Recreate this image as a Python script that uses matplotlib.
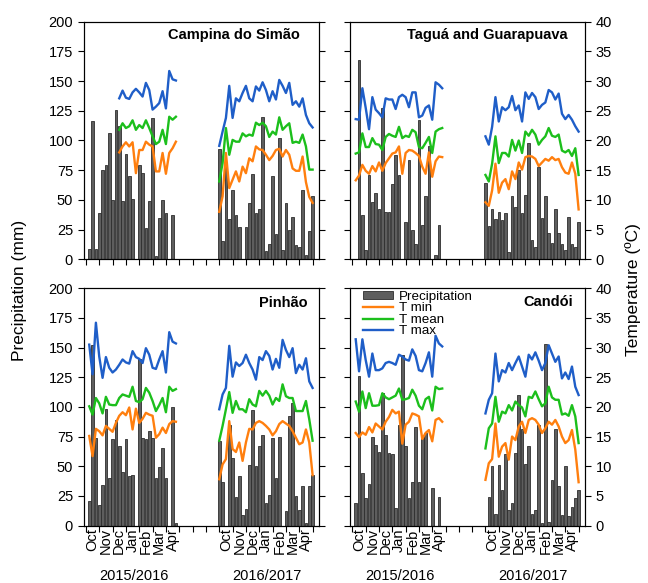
import numpy as np
import matplotlib.pyplot as plt
from matplotlib.patches import Patch
from matplotlib.lines import Line2D
from matplotlib.transforms import blended_transform_factory

plt.rcParams['font.family'] = ['Liberation Sans', 'DejaVu Sans']

months = ["Oct", "Nov", "Dec", "Jan", "Feb", "Mar", "Apr"]
seasons = ["2015/2016", "2016/2017"]
season_offset = [0, 10]   # x position (months) where each season starts
step = 0.25               # one data interval, in months

# ---- Campina do Simão ----
campina_rain_start = [0.25, 0.0]
campina_rain_1 = [9, 116, 9, 39, 75, 79, 106, 50, 126, 112, 49, 89, 70, 51, 0, 79, 73, 26, 49, 119,
                  3, 35, 50, 39, 0, 37]
campina_rain_2 = [93, 15, 81, 34, 58, 37, 27, 0, 27, 47, 72, 39, 42, 120, 7, 13, 70, 21, 102, 8,
                  47, 25, 36, 12, 10, 58, 4, 24, 53]
campina_temp_start = [2.5, 0.0]
campina_tmax_1 = [27.1, 28.4, 27.2, 27.0, 28.1, 28.7, 28.1, 27.4, 29.7, 28.5, 25.2, 25.7, 26.3, 28.3,
                  25.4, 31.7, 30.3, 30.1]
campina_tmean_1 = [21.8, 22.9, 22.1, 22.4, 23.4, 21.8, 22.6, 22.1, 23.4, 22.1, 20.7, 19.4, 19.8, 21.8,
                   19.4, 24.0, 23.5, 24.0]
campina_tmin_1 = [18.0, 19.0, 19.7, 19.0, 19.7, 14.5, 18.4, 18.4, 19.8, 19.3, 19.0, 14.8, 14.8, 17.9,
                  14.4, 17.9, 18.7, 19.8]
campina_tmax_2 = [19.1, 21.5, 23.8, 29.2, 23.8, 27.1, 26.6, 28.0, 29.2, 27.1, 26.6, 29.1, 28.4, 29.8,
                  28.5, 26.6, 28.3, 26.9, 30.2, 29.2, 28.0, 29.7, 26.0, 26.6, 25.7, 27.1, 24.3, 22.9, 22.2]
campina_tmean_2 = [13.1, 16.2, 22.1, 17.6, 20.1, 19.8, 19.8, 21.2, 20.7, 21.0, 20.8, 23.0, 22.6, 23.0,
                   22.4, 20.6, 21.5, 21.0, 23.9, 21.8, 22.4, 22.9, 19.6, 19.8, 19.6, 21.0, 19.0, 15.1, 15.1]
campina_tmin_2 = [8.0, 10.6, 17.9, 12.0, 13.4, 14.8, 13.1, 15.6, 14.5, 17.0, 16.5, 19.0, 18.5, 18.4,
                  17.6, 16.7, 17.4, 18.4, 18.6, 17.3, 18.4, 17.6, 15.3, 14.9, 14.9, 17.3, 13.0, 10.5, 9.5]

# ---- Taguá and Guarapuava ----
tagua_rain_start = [0.5, 0.0]
tagua_rain_1 = [168, 37, 8, 71, 48, 56, 42, 127, 40, 40, 63, 88, 71, 0, 31, 84, 25, 13, 117, 29,
                53, 95, 0, 4, 29]
tagua_rain_2 = [64, 28, 42, 34, 40, 33, 39, 6, 53, 44, 75, 39, 54, 98, 16, 10, 78, 35, 53, 22,
                14, 42, 22, 13, 8, 36, 13, 10, 31]
tagua_temp_start = [0.25, 0.0]
tagua_tmax_1 = [23.6, 23.5, 28.8, 25.5, 21.9, 27.3, 25.2, 24.6, 23.9, 27.1, 26.9, 26.9, 25.3, 27.3,
                27.7, 27.3, 25.6, 28.1, 28.1, 23.9, 24.2, 25.5, 25.9, 23.5, 29.8, 29.4, 28.8]
tagua_tmean_1 = [17.8, 18.0, 21.2, 18.9, 18.9, 20.4, 19.4, 19.3, 18.4, 20.6, 21.1, 20.8, 20.6, 22.3,
                 20.4, 20.8, 20.6, 21.8, 21.4, 18.9, 18.7, 19.6, 20.6, 17.9, 21.5, 21.9, 22.1]
tagua_tmin_1 = [13.3, 14.1, 15.9, 14.9, 14.4, 15.7, 14.8, 16.3, 14.9, 16.2, 17.0, 17.8, 18.0, 19.0,
                14.4, 17.9, 18.4, 18.3, 17.9, 17.4, 15.6, 14.4, 18.0, 13.9, 16.5, 17.3, 17.2]
tagua_tmax_2 = [20.7, 19.3, 22.3, 27.3, 23.2, 25.6, 25.1, 25.6, 27.5, 25.1, 25.9, 23.2, 28.1, 27.0,
                28.0, 27.3, 25.3, 26.0, 26.4, 28.5, 28.1, 26.9, 27.9, 24.5, 23.6, 24.3, 23.5, 22.4, 21.5]
tagua_tmean_2 = [14.2, 13.1, 16.1, 20.7, 16.2, 17.9, 17.9, 17.3, 20.1, 18.3, 20.0, 17.9, 21.5, 20.8,
                 21.8, 21.0, 19.3, 20.1, 20.7, 22.1, 20.8, 20.6, 21.0, 18.3, 18.0, 18.4, 17.4, 18.7, 14.2]
tagua_tmin_2 = [9.6, 9.0, 11.6, 16.1, 11.2, 12.9, 13.5, 11.8, 14.8, 13.5, 16.3, 15.1, 17.2, 17.4,
                17.3, 16.9, 15.7, 16.3, 16.9, 16.6, 17.2, 16.7, 16.9, 15.5, 14.6, 14.4, 16.3, 14.4, 8.4]

# ---- Pinhão ----
pinhao_rain_start = [0.25, 0.0]
pinhao_rain_1 = [21, 152, 74, 17, 34, 98, 40, 73, 89, 67, 45, 73, 42, 43, 0, 140, 74, 73, 80, 74,
                 40, 49, 65, 40, 0, 100, 2]
pinhao_rain_2 = [71, 37, 0, 85, 57, 24, 42, 9, 14, 51, 97, 50, 67, 76, 19, 26, 74, 40, 75, 0,
                 12, 92, 103, 25, 13, 33, 2, 33, 43]
pinhao_temp_start = [0.25, 0.0]
pinhao_tmax_1 = [30.5, 25.5, 34.2, 28.5, 24.9, 28.4, 26.6, 25.8, 26.3, 27.1, 28.0, 27.5, 27.3, 29.4,
                 28.4, 28.1, 27.4, 29.9, 28.8, 26.6, 26.4, 28.0, 29.4, 25.8, 32.6, 31.0, 30.7]
pinhao_tmean_1 = [20.1, 18.7, 21.5, 20.6, 18.9, 21.7, 20.4, 20.3, 20.3, 21.5, 22.1, 21.9, 21.7, 23.4,
                  21.0, 20.8, 21.3, 23.2, 22.4, 21.0, 19.3, 20.3, 21.5, 19.1, 23.4, 22.7, 23.0]
pinhao_tmin_1 = [15.1, 11.7, 16.3, 15.9, 15.2, 16.8, 16.3, 15.8, 17.3, 18.5, 19.1, 18.6, 19.9, 16.2,
                 19.7, 17.3, 18.0, 19.0, 18.7, 18.5, 14.8, 15.4, 16.5, 15.6, 17.1, 17.6, 17.5]
pinhao_tmax_2 = [19.6, 22.1, 23.2, 30.3, 25.1, 27.5, 26.9, 27.4, 28.8, 27.4, 26.3, 24.6, 28.4, 27.9,
                 29.4, 28.6, 26.3, 28.1, 26.6, 31.3, 29.6, 28.4, 29.9, 25.7, 27.1, 26.3, 28.2, 24.3, 23.2]
pinhao_tmean_2 = [14.3, 16.8, 19.6, 22.5, 19.0, 21.0, 19.6, 19.6, 19.1, 21.3, 20.4, 20.1, 22.7, 21.9,
                  22.7, 21.9, 20.4, 21.5, 21.0, 23.8, 21.8, 21.5, 21.5, 19.3, 19.3, 19.3, 21.0, 17.9, 14.3]
pinhao_tmin_2 = [7.8, 10.3, 11.2, 17.6, 12.9, 12.4, 14.0, 10.9, 14.0, 16.3, 16.2, 17.3, 17.6, 17.3,
                 16.8, 16.2, 15.2, 15.9, 17.1, 17.6, 17.2, 16.8, 15.9, 14.8, 13.7, 14.0, 16.2, 14.0, 8.5]

# ---- Candói ----
candoi_rain_start = [0.25, 0.25]
candoi_rain_1 = [19, 126, 44, 23, 35, 75, 68, 62, 112, 76, 61, 60, 15, 85, 144, 67, 23, 37, 83, 37,
                 75, 78, 0, 32, 0, 24]
candoi_rain_2 = [24, 50, 10, 51, 30, 60, 13, 19, 61, 110, 81, 52, 67, 10, 13, 85, 2, 153, 3, 38,
                 81, 33, 9, 50, 8, 16, 23, 30]
candoi_temp_start = [0.25, 0.0]
candoi_tmax_1 = [31.4, 26.0, 31.4, 27.9, 25.1, 29.0, 26.2, 26.2, 26.5, 27.4, 27.6, 27.4, 27.1, 28.8,
                 28.5, 28.0, 27.8, 29.7, 28.6, 26.2, 26.0, 27.4, 29.2, 25.1, 32.0, 30.7, 30.2]
candoi_tmean_1 = [20.9, 19.2, 22.6, 19.8, 22.3, 20.2, 20.2, 20.3, 22.3, 21.6, 21.3, 21.6, 21.9, 23.1,
                  21.2, 21.3, 21.5, 22.9, 21.9, 20.2, 19.6, 21.3, 21.7, 19.4, 23.4, 23.0, 23.1]
candoi_tmin_1 = [15.6, 14.9, 15.7, 15.3, 16.6, 15.7, 17.2, 16.7, 16.2, 17.5, 18.3, 19.5, 18.9, 19.2,
                 13.8, 17.0, 17.5, 18.9, 18.7, 18.4, 14.6, 15.6, 16.1, 14.2, 17.8, 18.1, 17.5]
candoi_tmax_2 = [18.9, 21.2, 22.3, 29.0, 24.3, 26.2, 25.8, 27.4, 26.2, 27.4, 28.5, 26.8, 25.1, 28.8,
                 28.0, 29.2, 27.8, 26.2, 27.4, 30.4, 29.0, 27.6, 28.5, 24.8, 25.8, 24.7, 26.8, 23.4, 22.0]
candoi_tmean_2 = [13.0, 16.4, 17.2, 21.7, 17.5, 19.2, 18.9, 20.3, 19.4, 20.9, 20.3, 19.9, 18.4, 21.7,
                  21.5, 22.6, 21.3, 20.1, 20.6, 23.4, 21.6, 21.2, 21.2, 18.7, 18.9, 18.5, 20.3, 18.4, 13.9]
candoi_tmin_2 = [7.7, 10.5, 11.2, 17.2, 11.6, 13.3, 13.9, 11.1, 15.0, 14.4, 16.7, 17.5, 15.6, 17.8,
                 18.1, 17.8, 17.0, 15.6, 16.4, 17.5, 17.0, 17.8, 16.7, 15.0, 13.9, 14.4, 16.1, 12.8, 7.3]

BAR_COLOR = "#5e5e5e"
BAR_EDGE = "#2e2e2e"
C_MIN = "#ff7f0e"
C_MEAN = "#1cbf1c"
C_MAX = "#1f5ec8"


def panel(ax, title, title_xy, rain, rain_start, tmin, tmean, tmax, temp_start, left, bottom):
    ax2 = ax.twinx()
    for s in range(2):
        xr = season_offset[s] + rain_start[s] + step * np.arange(len(rain[s]))
        ax.bar(xr, rain[s], width=0.19, color=BAR_COLOR, edgecolor=BAR_EDGE, linewidth=0.6)
        xt = season_offset[s] + temp_start[s] + step * np.arange(len(tmin[s]))
        ax2.plot(xt, tmin[s], color=C_MIN, lw=1.7)
        ax2.plot(xt, tmean[s], color=C_MEAN, lw=1.7)
        ax2.plot(xt, tmax[s], color=C_MAX, lw=1.7)

    ax.set_xlim(-0.18, 17.48)
    ax.set_ylim(0, 200)
    ax2.set_ylim(0, 40)
    ax.set_yticks(np.arange(0, 201, 25))
    ax2.set_yticks(np.arange(0, 41, 5))
    ax.set_xticks(np.arange(18))
    ax.set_xticklabels([])
    ax.tick_params(axis="both", direction="out", length=4, labelsize=10.5)
    ax2.tick_params(axis="y", direction="out", length=4, labelsize=10.5)
    if not left:
        ax.set_yticklabels([])
    else:
        ax2.set_yticklabels([])

    if bottom:
        centers = [o + i + 0.5 for o in season_offset for i in range(7)]
        ax.set_xticks(centers, minor=True)
        ax.set_xticklabels(months * 2, minor=True, rotation=90, fontsize=10.5)
        ax.tick_params(axis="x", which="minor", length=0, pad=2)
        trans = blended_transform_factory(ax.transData, ax.transAxes)
        for s in range(2):
            ax.text(season_offset[s] + 3.6, -0.211, seasons[s], transform=trans,
                    ha="center", va="center", fontsize=10.5)

    ax2.text(title_xy[0], title_xy[1], title, transform=ax.transAxes, ha="right", va="center",
             fontsize=10.5, fontweight="bold")
    return ax2


fig = plt.figure(figsize=(6.48, 5.83), dpi=100)
W, H = 648, 583


def add_axes(x0, x1, y0, y1):
    return fig.add_axes([x0 / W, 1 - y1 / H, (x1 - x0) / W, (y1 - y0) / H])


ax_tl = add_axes(83.5, 319, 21.7, 259.3)
ax_tr = add_axes(350, 585, 21.7, 259.3)
ax_bl = add_axes(83.5, 319, 288.3, 525.5)
ax_br = add_axes(350, 585, 288.3, 525.5)

panel(ax_tl, "Campina do Simão", (0.92, 0.944), [campina_rain_1, campina_rain_2], campina_rain_start,
      [campina_tmin_1, campina_tmin_2], [campina_tmean_1, campina_tmean_2],
      [campina_tmax_1, campina_tmax_2], campina_temp_start, True, False)
panel(ax_tr, "Taguá and Guarapuava", (0.928, 0.944), [tagua_rain_1, tagua_rain_2], tagua_rain_start,
      [tagua_tmin_1, tagua_tmin_2], [tagua_tmean_1, tagua_tmean_2],
      [tagua_tmax_1, tagua_tmax_2], tagua_temp_start, False, False)
panel(ax_bl, "Pinhão", (0.953, 0.938), [pinhao_rain_1, pinhao_rain_2], pinhao_rain_start,
      [pinhao_tmin_1, pinhao_tmin_2], [pinhao_tmean_1, pinhao_tmean_2],
      [pinhao_tmax_1, pinhao_tmax_2], pinhao_temp_start, True, True)
ax2_br = panel(ax_br, "Candói", (0.949, 0.942), [candoi_rain_1, candoi_rain_2], candoi_rain_start,
               [candoi_tmin_1, candoi_tmin_2], [candoi_tmean_1, candoi_tmean_2],
               [candoi_tmax_1, candoi_tmax_2], candoi_temp_start, False, True)

handles = [Patch(facecolor=BAR_COLOR, edgecolor=BAR_EDGE, linewidth=0.6),
           Line2D([], [], color=C_MIN, lw=1.7),
           Line2D([], [], color=C_MEAN, lw=1.7),
           Line2D([], [], color=C_MAX, lw=1.7)]
ax2_br.legend(handles, ["Precipitation", "T min", "T mean", "T max"], loc="upper left",
              bbox_to_anchor=(0.025, 1.018), frameon=False, fontsize=9.6, handlelength=2.3,
              handleheight=0.55, labelspacing=-0.03, handletextpad=0.45, borderaxespad=0.1)

fig.text(20 / W, 1 - 290 / H, "Precipitation (mm)", rotation=90, ha="center", va="center", fontsize=12.5)
fig.text(633 / W, 1 - 290 / H, "Temperature (ºC)", rotation=90, ha="center", va="center", fontsize=12.5)

fig.savefig("out.png", dpi=100)
